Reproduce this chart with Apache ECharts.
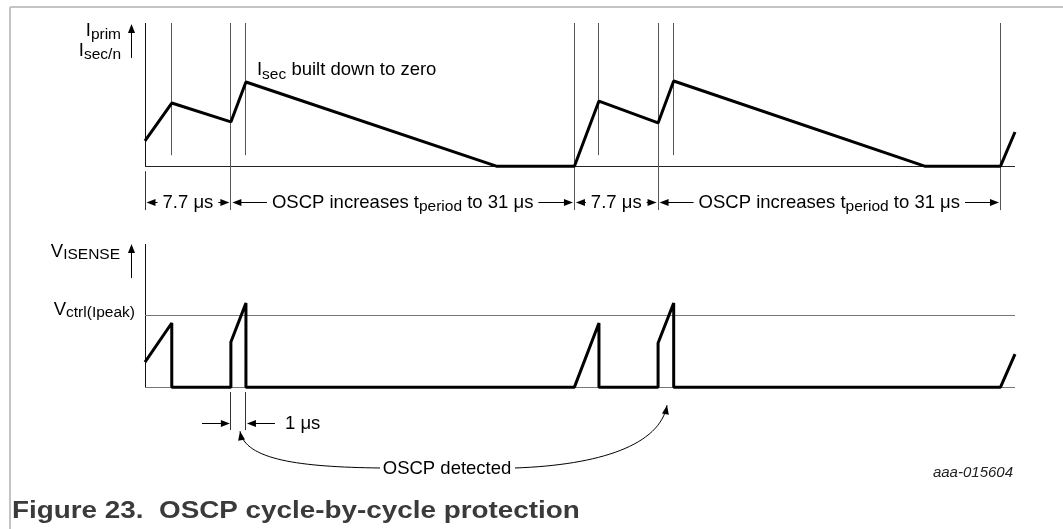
<!DOCTYPE html>
<html><head><meta charset="utf-8">
<script src="https://cdn.jsdelivr.net/npm/echarts@6/dist/echarts.min.js"></script>
<style>html,body{margin:0;padding:0;background:#fff}#c{width:1063px;height:529px}</style>
</head><body><div id="c"></div>
<script>
// ---------------- data (time in µs, levels in arbitrary units) ----------------
const primTime      = [0, 2.4, 7.7, 9.05, 31.5, 38.5, 40.7, 46.0, 47.4, 69.9, 76.7, 78];
const primCurrent   = [1.76, 4.41, 3.09, 5.88, 0, 0, 4.55, 3.02, 5.95, 0, 0, 2.39];
const senseTime     = [0, 2.4, 2.4, 7.7, 7.7, 9.05, 9.05, 38.5, 40.7, 40.7, 46.0, 46.0, 47.4, 47.4, 76.7, 78];
const senseVoltage  = [1.75, 4.48, 0, 0, 3.15, 5.87, 0, 0, 4.48, 0, 0, 3.08, 5.87, 0, 0, 2.31];
const vctrlLevel    = 4.97;
const cycleStarts   = [0, 7.7, 38.5, 46.0, 76.7];
const strokeEnds    = [2.4, 9.05, 40.7, 47.4];
const dimLabels     = ['7.7 μs', 'OSCP increases t{s|period} to 31 μs', '7.7 μs', 'OSCP increases t{s|period} to 31 μs'];
const blankWindow   = [7.7, 9.05];
const blankLabel    = '1 μs';
const detectLabel   = 'OSCP detected';
const topAxisLabels = ['I{s|prim}', 'I{s|sec/n}'];
const secLabel      = 'I{s|sec} built down to zero';
const botAxisLabels = ['V{s|ISENSE}', 'V{s|ctrl(Ipeak)}'];
const captionText   = 'Figure 23.  OSCP cycle-by-cycle protection';
const figureId      = 'aaa-015604';

// ---------------- layout / style ----------------
const FONT = '"Liberation Sans", Arial, Helvetica, sans-serif';
const MAIN = 18.5, SUB = 15.5;
const X_MAX = 78;
const richSub = { s: { fontSize: SUB, fontFamily: FONT, fill: '#000', padding: [9, 0, 0, 0] } };
const richSubL = { s: { fontSize: SUB, fontFamily: FONT, fill: '#000', padding: [7, 0, 0, 0] } };

const chart = echarts.init(document.getElementById('c'), null, { renderer: 'canvas', width: 1063, height: 529 });

function crisp(v) { return Math.round(v - 0.5) + 0.5; }
function seg(a, b, color, w) {
  return { type: 'line', shape: { x1: a[0], y1: a[1], x2: b[0], y2: b[1] }, style: { stroke: color, lineWidth: w || 1, fill: null } };
}
function head(tip, from, len, hw, color) {
  const dx = tip[0] - from[0], dy = tip[1] - from[1];
  const L = Math.hypot(dx, dy) || 1, ux = dx / L, uy = dy / L;
  const bx = tip[0] - ux * len, by = tip[1] - uy * len;
  return { type: 'polygon', shape: { points: [[tip[0], tip[1]], [bx - uy * hw, by + ux * hw], [bx + uy * hw, by - ux * hw]] }, style: { fill: color || '#000', stroke: null } };
}
function txt(p, text, align, extra) {
  return { type: 'text', x: p[0], y: p[1], style: Object.assign({
    text: text, fill: '#000', fontSize: MAIN, fontFamily: FONT, align: align, verticalAlign: 'middle', rich: richSub, legacy: false
  }, extra || {}) };
}
function vline(c, t, y1, y2, color) {
  const a = c([t, y1]), b = c([t, y2]); const x = crisp(a[0]);
  return seg([x, a[1]], [x, b[1]], color, 1);
}
function hline(c, t1, t2, y, color) {
  const a = c([t1, y]), b = c([t2, y]); const yy = crisp(a[1]);
  return seg([a[0], yy], [b[0], yy], color, 1);
}
function upArrow(c, x, yb, yt) {
  const a = c([x, yb]), b = c([x, yt]); const xx = crisp(a[0]);
  return [seg([xx, a[1]], [xx, b[1] + 7], '#000', 1), head([xx, b[1]], [xx, a[1]], 9, 3.5)];
}
function dim(c, t1, t2, y, label) {
  const a = c([t1, y]), b = c([t2, y]); const yy = crisp(a[1]);
  const l = [a[0] + 1.5, yy], r = [b[0] - 1.5, yy];
  return [seg([l[0] + 6, yy], [r[0] - 6, yy], '#000', 1), head(l, r, 9, 3.5), head(r, l, 9, 3.5),
    txt([(a[0] + b[0]) / 2, yy], label, 'center', { backgroundColor: '#fff', padding: [0, 5] })];
}

function renderTop(params, api) {
  const c = p => api.coord(p);
  const ch = [];
  ch.push(vline(c, 0, 10, 0, '#111'));
  ch.push(hline(c, 0, X_MAX, 0, '#222'));
  strokeEnds.forEach(t => ch.push(vline(c, t, 10, 0.77, '#555')));
  cycleStarts.slice(1).forEach(t => ch.push(vline(c, t, 10, -3.07, '#555')));
  ch.push(vline(c, 0, -0.35, -3.07, '#333'));
  for (let i = 0; i < dimLabels.length; i++) ch.push(...dim(c, cycleStarts[i], cycleStarts[i + 1], -2.57, dimLabels[i]));
  ch.push(txt(c([-2.15, 9.44]), topAxisLabels[0], 'right', { rich: richSubL }));
  ch.push(txt(c([-2.15, 8.05]), topAxisLabels[1], 'right', { rich: richSubL }));
  ch.push(...upArrow(c, -1.17, 7.56, 9.93));
  ch.push(txt(c([10.04, 6.72]), secLabel, 'left'));
  return { type: 'group', children: ch };
}

function renderBottom(params, api) {
  const c = p => api.coord(p);
  const ch = [];
  ch.push(vline(c, 0, 10, 0, '#111'));
  ch.push(hline(c, 0, X_MAX, 0, '#777'));
  ch.push(hline(c, 0, X_MAX, vctrlLevel, '#777'));
  const subV = { s: { fontSize: SUB, fontFamily: FONT, fill: '#000', padding: [5, 0, 0, 0] } };
  ch.push(txt(c([-2.24, 9.44]), botAxisLabels[0], 'right', { rich: subV }));
  ch.push(txt(c([-0.9, 5.39]), botAxisLabels[1], 'right', { rich: subV }));
  ch.push(...upArrow(c, -1.17, 7.62, 10.0));
  // 1 µs blanking window
  blankWindow.forEach(t => ch.push(vline(c, t, -0.34, -3.0, '#333')));
  const ay = crisp(c([0, -2.57])[1]);
  const lt = c([5.11, -2.57]), lh = c([blankWindow[0], -2.57]);
  const rt = c([11.65, -2.57]), rh = c([blankWindow[1], -2.57]);
  ch.push(seg([lt[0], ay], [lh[0] - 7, ay], '#000', 1), head([lh[0] - 1, ay], [lt[0], ay], 9, 3.5));
  ch.push(seg([rt[0], ay], [rh[0] + 7, ay], '#000', 1), head([rh[0] + 1, ay], [rt[0], ay], 9, 3.5));
  ch.push(txt(c([12.55, -2.57]), blankLabel, 'left'));
  // OSCP detected callouts
  ch.push(txt(c([27.08, -5.7]), detectLabel, 'center'));
  const curves = [
    [[21.07, -5.65], [13.9, -5.58], [8.97, -5.09], [8.52, -3.08]],
    [[33.17, -5.65], [40.79, -5.44], [46.17, -4.05], [46.8, -1.26]]
  ];
  curves.forEach(cv => {
    const p = cv.map(c);
    ch.push({ type: 'bezierCurve', shape: { x1: p[0][0], y1: p[0][1], cpx1: p[1][0], cpy1: p[1][1], cpx2: p[2][0], cpy2: p[2][1], x2: p[3][0], y2: p[3][1] }, style: { stroke: '#000', lineWidth: 1, fill: null } });
    ch.push(head(p[3], p[2], 9, 3.5));
  });
  return { type: 'group', children: ch };
}

const option = {
  animation: false,
  backgroundColor: '#fff',
  grid: [
    { left: 145, top: 23, width: 870, height: 189 },
    { left: 145, top: 244, width: 870, height: 229 }
  ],
  xAxis: [
    { gridIndex: 0, type: 'value', min: 0, max: X_MAX, show: false },
    { gridIndex: 1, type: 'value', min: 0, max: X_MAX, show: false }
  ],
  yAxis: [
    { gridIndex: 0, type: 'value', min: -3.2, max: 10, show: false },
    { gridIndex: 1, type: 'value', min: -6, max: 10, show: false }
  ],
  series: [
    { type: 'custom', xAxisIndex: 0, yAxisIndex: 0, data: [[0, 0]], renderItem: renderTop, z: 1, silent: true, clip: false },
    { type: 'custom', xAxisIndex: 1, yAxisIndex: 1, data: [[0, 0]], renderItem: renderBottom, z: 1, silent: true, clip: false },
    { name: 'Iprim / Isec/n', type: 'line', xAxisIndex: 0, yAxisIndex: 0, z: 3, symbol: 'none', clip: false,
      data: primTime.map((t, i) => [t, primCurrent[i]]), lineStyle: { color: '#000', width: 3 } },
    { name: 'VISENSE', type: 'line', xAxisIndex: 1, yAxisIndex: 1, z: 3, symbol: 'none', clip: false,
      data: senseTime.map((t, i) => [t, senseVoltage[i]]), lineStyle: { color: '#000', width: 3 } }
  ],
  graphic: { elements: [
    { type: 'line', shape: { x1: 10, y1: 7, x2: 1063, y2: 7 }, style: { stroke: '#c4c4c4', lineWidth: 2 }, silent: true },
    { type: 'line', shape: { x1: 10, y1: 7, x2: 10, y2: 529 }, style: { stroke: '#c4c4c4', lineWidth: 2 }, silent: true },
    { type: 'text', x: 1013, y: 473, silent: true, style: { text: figureId, fill: '#222', font: 'italic 15px ' + FONT, align: 'right', verticalAlign: 'middle' } },
    { type: 'text', x: 12, y: 511, scaleX: 1.16, silent: true, style: { text: captionText, fill: '#3a3a3a', font: 'bold 24px ' + FONT, align: 'left', verticalAlign: 'middle' } }
  ] }
};
chart.setOption(option);
</script>
</body></html>
